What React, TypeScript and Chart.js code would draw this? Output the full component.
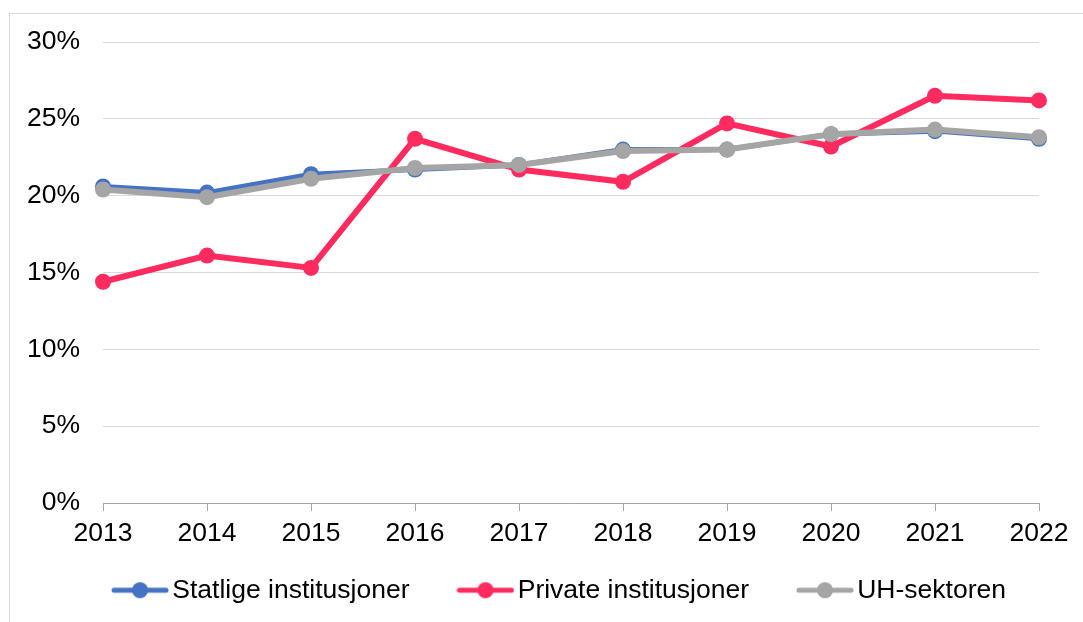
import React, { useEffect, useRef } from "react";
import { Chart, registerables } from "chart.js";

Chart.register(...registerables);

const years = ["2013", "2014", "2015", "2016", "2017", "2018", "2019", "2020", "2021", "2022"];
const statlige = [20.6, 20.2, 21.4, 21.7, 22.0, 23.0, 23.0, 24.0, 24.2, 23.7];
const privat = [14.4, 16.1, 15.3, 23.7, 21.7, 20.9, 24.7, 23.2, 26.5, 26.2];
const uhSektor = [20.4, 19.9, 21.1, 21.8, 22.0, 22.9, 23.0, 24.0, 24.3, 23.8];
const seriesNames = ["Statlige institusjoner", "Private institusjoner", "UH-sektoren"];
const seriesColors = ["#4472C4", "#FF2B5E", "#A5A5A5"];

const FONT = "'Liberation Sans', Arial, sans-serif";
const FONT_SIZE = 26.5;

function makeLegendIcon(color: string): HTMLCanvasElement {
  const c = document.createElement("canvas");
  c.width = 58;
  c.height = 18;
  const ctx = c.getContext("2d")!;
  ctx.strokeStyle = color;
  ctx.lineWidth = 5;
  ctx.lineCap = "round";
  ctx.beginPath();
  ctx.moveTo(3, 9);
  ctx.lineTo(55, 9);
  ctx.stroke();
  ctx.fillStyle = color;
  ctx.beginPath();
  ctx.arc(29, 9, 8, 0, Math.PI * 2);
  ctx.fill();
  return c;
}

const legendTweak = {
  id: "legendTweak",
  beforeLayout(chart: any) {
    const l = chart.legend;
    if (l && !l._tweaked) {
      const orig = l.fit.bind(l);
      l.fit = function () {
        orig();
        this.height = 71;
      };
      l._tweaked = true;
    }
  },
  afterLayout(chart: any) {
    const l = chart.legend;
    if (l) {
      l.left += 44;
      l.right += 44;
      l.top -= 31;
      l.bottom = chart.height;
      l.height = l.bottom - l.top;
    }
  },
};

export default function App() {
  const ref = useRef<HTMLCanvasElement>(null);

  useEffect(() => {
    if (!ref.current) return;
    const icons = seriesColors.map(makeLegendIcon);
    const seriesData = [statlige, privat, uhSektor];
    const orders = [3, 2, 1];
    const widths = [5, 6, 6];
    const chart = new Chart(ref.current, {
      type: "line",
      data: {
        labels: years,
        datasets: seriesNames.map((name, i) => ({
          label: name,
          data: seriesData[i],
          borderColor: seriesColors[i],
          backgroundColor: seriesColors[i],
          borderWidth: widths[i],
          pointRadius: 8,
          pointHoverRadius: 8,
          pointBorderWidth: 0,
          pointBackgroundColor: seriesColors[i],
          tension: 0,
          order: orders[i],
        })),
      },
      plugins: [legendTweak],
      options: {
        responsive: false,
        animation: false,
        layout: { padding: { left: 0, right: 44, top: 42, bottom: 0 } },
        plugins: {
          tooltip: { enabled: false },
          legend: {
            position: "bottom",
            labels: {
              usePointStyle: true,
              pointStyleWidth: 38,
              padding: 57,
              color: "#000",
              font: { family: FONT, size: FONT_SIZE },
              generateLabels: (ch: any) =>
                ch.data.datasets.map((ds: any, i: number) => ({
                  text: ds.label,
                  pointStyle: icons[i],
                  fillStyle: ds.borderColor,
                  strokeStyle: ds.borderColor,
                  lineWidth: 0,
                  hidden: false,
                  datasetIndex: i,
                  fontColor: "#000",
                })),
            },
          },
        },
        scales: {
          x: {
            type: "category",
            offset: false,
            grid: {
              drawOnChartArea: false,
              drawTicks: true,
              tickLength: 8,
              color: "#A6A6A6",
            },
            border: { display: true, color: "#A6A6A6", width: 1 },
            ticks: {
              color: "#000",
              font: { family: FONT, size: FONT_SIZE },
              padding: 7,
              maxRotation: 0,
              autoSkip: false,
            },
            afterFit: (s: any) => {
              s.height = 48;
            },
          },
          y: {
            min: 0,
            max: 30,
            grid: { color: "#D9D9D9", lineWidth: 1, drawTicks: false },
            border: { display: false },
            ticks: {
              stepSize: 5,
              color: "#000",
              font: { family: FONT, size: FONT_SIZE },
              padding: 23,
              callback: (v: any) => v + "%",
            },
            afterFit: (s: any) => {
              s.width = 103;
            },
          },
        },
      },
    });
    return () => chart.destroy();
  }, []);

  return (
    <div style={{ position: "fixed", left: 0, top: 0, width: 1083, height: 622, background: "#fff" }}>
      <div
        style={{
          position: "absolute",
          left: 9,
          top: 13,
          right: -2,
          bottom: -2,
          borderTop: "1px solid #D9D9D9",
          borderLeft: "1px solid #D9D9D9",
        }}
      />
      <canvas ref={ref} width={1083} height={622} style={{ position: "absolute", left: 0, top: 0 }} />
    </div>
  );
}
